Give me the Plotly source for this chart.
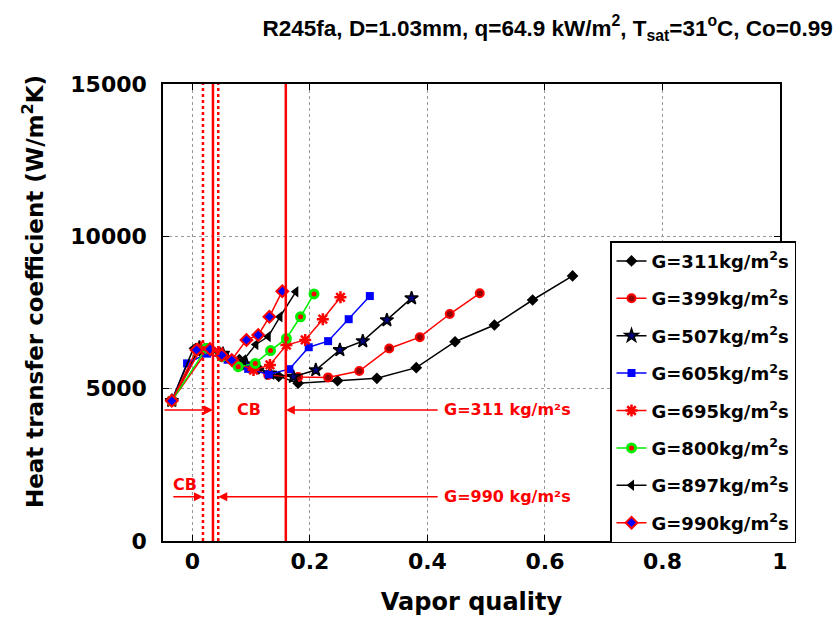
import plotly.graph_objects as go

# Flow boiling data: vapor quality vs heat transfer coefficient (W/m2K)
x_311 = [-0.035, 0.012, 0.046, 0.080, 0.113, 0.147, 0.180, 0.247, 0.314, 0.381, 0.447, 0.514, 0.579, 0.647]
y_311 = [4600, 6250, 6200, 5950, 5650, 5400, 5180, 5260, 5340, 5690, 6540, 7090, 7910, 8700]

x_399 = [-0.035, 0.027, 0.078, 0.129, 0.180, 0.231, 0.284, 0.335, 0.387, 0.438, 0.489]
y_399 = [4600, 6300, 5850, 5450, 5380, 5370, 5580, 6320, 6690, 7450, 8130]

x_507 = [-0.035, 0.012, 0.052, 0.092, 0.132, 0.172, 0.210, 0.251, 0.290, 0.331, 0.373]
y_507 = [4600, 6350, 6150, 5800, 5500, 5390, 5610, 6270, 6560, 7250, 7970]

x_605 = [-0.035, -0.009, 0.025, 0.060, 0.095, 0.130, 0.165, 0.198, 0.231, 0.266, 0.302]
y_605 = [4600, 5830, 6150, 5950, 5650, 5470, 5640, 6360, 6560, 7280, 8040]

x_695 = [-0.035, 0.015, 0.045, 0.075, 0.104, 0.132, 0.160, 0.192, 0.222, 0.252]
y_695 = [4600, 6350, 6200, 5850, 5610, 5780, 6430, 6600, 7280, 8000]

x_800 = [-0.035, 0.024, 0.050, 0.078, 0.107, 0.133, 0.160, 0.184, 0.207]
y_800 = [4600, 6330, 6050, 5720, 5830, 6250, 6650, 7360, 8110]

x_897 = [-0.035, 0.002, 0.030, 0.058, 0.087, 0.108, 0.129, 0.149, 0.176]
y_897 = [4600, 6330, 6250, 6050, 5940, 6450, 6710, 7360, 8180]

x_990 = [-0.035, 0.007, 0.030, 0.050, 0.067, 0.092, 0.112, 0.131, 0.153]
y_990 = [4600, 6270, 6300, 6100, 5940, 6600, 6760, 7360, 8200]

mass_flux = ["311", "399", "507", "605", "695", "800", "897", "990"]

# Confined-boiling region boundaries and arrow heights
cb_311 = [0.035, 0.159]
cb_990 = [0.018, 0.044]
arrow_y_311 = 4300
arrow_y_990 = 1450
label_x = 0.425

x_ticks = [0, 0.2, 0.4, 0.6, 0.8, 1]
x_tick_text = ["0", "0.2", "0.4", "0.6", "0.8", "1"]
y_ticks = [0, 5000, 10000, 15000]
y_tick_text = ["0", "5000", "10000", "15000"]

FONT = "DejaVu Sans, Verdana, sans-serif"
TITLE_FONT = "Liberation Sans Narrow, Liberation Sans, Arial, sans-serif"

styles = {
    "311": dict(line="black", marker=dict(symbol="diamond", size=9, color="black")),
    "399": dict(line="#ff0000", marker=dict(symbol="circle", size=8, color="#900000",
                                             line=dict(color="#ff0000", width=2))),
    "507": dict(line="black", marker=dict(symbol="star", size=10, color="#000080",
                                           line=dict(color="black", width=1.5))),
    "605": dict(line="#0000ff", marker=dict(symbol="square", size=8, color="#0000ff")),
    "695": dict(line="#ff0000", marker=dict(symbol="asterisk-open", size=10,
                                             line=dict(color="#ff0000", width=2.5))),
    "800": dict(line="#00ee00", marker=dict(symbol="circle", size=8, color="#ff0000",
                                             line=dict(color="#00ee00", width=3))),
    "897": dict(line="black", marker=dict(symbol="triangle-left", size=10, color="black")),
    "990": dict(line="#ff0000", marker=dict(symbol="diamond", size=9, color="#0000ff",
                                             line=dict(color="#ff0000", width=2))),
}

series = {
    "311": (x_311, y_311), "399": (x_399, y_399), "507": (x_507, y_507),
    "605": (x_605, y_605), "695": (x_695, y_695), "800": (x_800, y_800),
    "897": (x_897, y_897), "990": (x_990, y_990),
}

fig = go.Figure()
for g in mass_flux:
    xs, ys = series[g]
    st = styles[g]
    fig.add_trace(go.Scatter(
        x=xs, y=ys, mode="lines+markers",
        name=f"<b>G={g}kg/m<sup>2</sup>s</b>",
        legendgroup=g,
        line=dict(color=st["line"], width=1.5),
        marker=st["marker"],
    ))

# Vertical boundaries: solid for G=311, dashed for G=990
shapes = []
for xv in cb_311:
    shapes.append(dict(type="line", xref="x", yref="y", x0=xv, x1=xv, y0=0, y1=15000,
                       line=dict(color="#ff0000", width=2.5)))
for xv in cb_990:
    shapes.append(dict(type="line", xref="x", yref="y", x0=xv, x1=xv, y0=0, y1=15000,
                       line=dict(color="#ff0000", width=2.5, dash="dot")))

red_txt = dict(family=FONT, size=16, color="#ff0000")
arrow_kw = dict(showarrow=True, arrowhead=2, arrowsize=1.2, arrowwidth=1.5,
                arrowcolor="#ff0000", axref="x", ayref="y", text="")
annotations = [
    # G=311 arrows
    dict(x=cb_311[0], y=arrow_y_311, ax=-0.05, ay=arrow_y_311, **arrow_kw),
    dict(x=cb_311[1], y=arrow_y_311, ax=label_x - 0.005, ay=arrow_y_311, **arrow_kw),
    dict(x=0.097, y=arrow_y_311, text="<b>CB</b>", showarrow=False, font=red_txt,
         bgcolor="white"),
    dict(x=label_x, y=arrow_y_311, text="<b>G=311 kg/m²s</b>", showarrow=False,
         xanchor="left", font=red_txt),
    # G=990 arrows
    dict(x=cb_990[0], y=arrow_y_990, ax=-0.035, ay=arrow_y_990, **arrow_kw),
    dict(x=cb_990[1], y=arrow_y_990, ax=label_x - 0.005, ay=arrow_y_990, **arrow_kw),
    dict(x=-0.012, y=1850, text="<b>CB</b>", showarrow=False, font=red_txt),
    dict(x=label_x, y=arrow_y_990, text="<b>G=990 kg/m²s</b>", showarrow=False,
         xanchor="left", font=red_txt),
    # y-axis title
    dict(x=-0.238, y=0.545, xref="paper", yref="paper", showarrow=False, textangle=-90,
         text="<b>Heat transfer coefficient (W/m<sup>2</sup>K)</b>",
         font=dict(family=FONT, size=23, color="black")),
]

axis_common = dict(
    showline=True, linecolor="black", linewidth=1.5, mirror="ticks",
    ticks="inside", ticklen=6, tickcolor="black", tickwidth=1.2,
    showgrid=True, gridcolor="#9a9a9a", griddash="dot", gridwidth=1,
    zeroline=False,
    tickfont=dict(family=FONT, size=22, color="black", weight="bold"),
)

fig.update_layout(
    width=840, height=623,
    margin=dict(l=163, r=60, t=84, b=82),
    paper_bgcolor="white", plot_bgcolor="white",
    title=dict(
        text="<b>R245fa, D=1.03mm, q=64.9 kW/m<sup>2</sup>, T<sub>sat</sub>=31<sup>o</sup>C, Co=0.99</b>",
        x=0.652, xanchor="center", y=0.955, yanchor="middle",
        font=dict(family=TITLE_FONT, size=22.5, color="black"),
    ),
    xaxis=dict(range=[-0.05, 1], tickvals=x_ticks, ticktext=x_tick_text,
               title=dict(text="<b>Vapor quality</b>", standoff=20,
                          font=dict(family=FONT, size=24, color="black")),
               **axis_common),
    yaxis=dict(range=[0, 15000], tickvals=y_ticks, ticktext=y_tick_text,
               ticklabelstandoff=10, **axis_common),
    legend=dict(x=0.7245, y=0.656, xanchor="left", yanchor="top",
                bgcolor="white", bordercolor="black", borderwidth=1.5,
                font=dict(family=FONT, size=18, color="black"),
                tracegroupgap=11, itemwidth=30),
    shapes=shapes,
    annotations=annotations,
    showlegend=True,
)

fig.write_html("out.html")
